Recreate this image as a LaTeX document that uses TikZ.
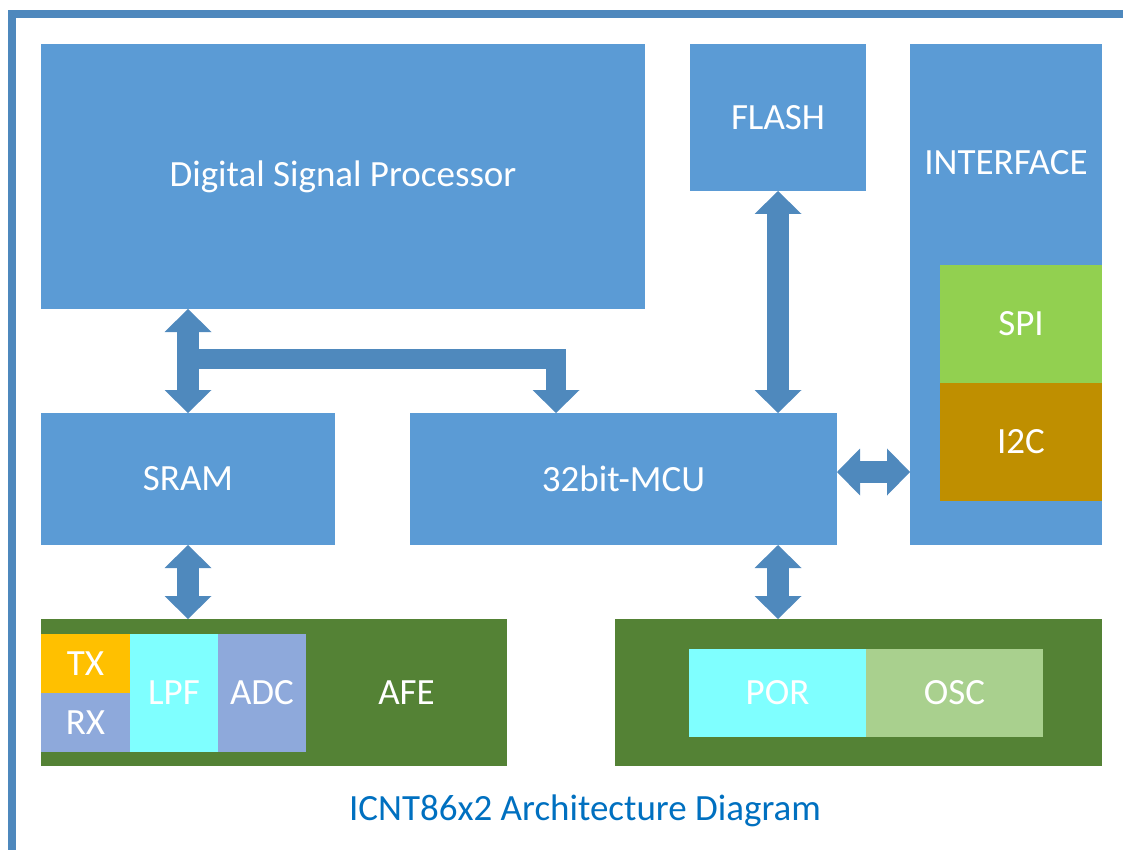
\documentclass[tikz,border=0pt]{standalone}
\usepackage{fontspec}
\setmainfont{Carlito}
\usetikzlibrary{positioning,arrows.meta}
\definecolor{frameC}{RGB}{78,136,189}
\definecolor{cBlock}{RGB}{91,155,213}
\definecolor{cBus}{RGB}{79,137,189}
\definecolor{cAna}{RGB}{84,130,53}
\definecolor{cTX}{RGB}{255,192,0}
\definecolor{cRX}{RGB}{142,169,219}
\definecolor{cLPF}{RGB}{127,255,255}
\definecolor{cOSC}{RGB}{169,208,142}
\definecolor{cSPI}{RGB}{146,208,80}
\definecolor{cI2C}{RGB}{191,143,0}
\definecolor{cTitle}{RGB}{0,112,192}

\begin{document}
\begin{tikzpicture}[
  x=1pt, y=1pt,
  font=\fontsize{37}{40}\selectfont,
  >={Triangle[length=23pt, width=47pt, line width=0pt]},
  every node/.style={inner sep=0pt, outer sep=0pt},
  blk/.style={fill=#1, text=white, anchor=north west},
  blk/.default=cBlock,
  bus/.style={line width=22pt, draw=cBus},
  lbl/.style={text=white},
  ttl/.style={text=cTitle},
]
\useasboundingbox (0,0) rectangle (1123,-850);

% ---- page frame ----
\draw[frameC, line width=8pt] (12,-14) rectangle (1400,-1000);

% ---- top row ----
\node[blk, minimum width=604pt, minimum height=265pt] (DSP) at (41,-44) {Digital Signal Processor};
\node[blk, minimum width=176pt, minimum height=147pt, right=45pt of DSP.north east, anchor=north west] (FLASH) {FLASH};
\node[blk, minimum width=192pt, minimum height=501pt, right=44pt of FLASH.north east, anchor=north west] (IFACE) {};
\node[lbl] (IFlbl) at ([yshift=-119pt]IFACE.north) {INTERFACE};
\node[blk=cSPI, minimum width=162pt, minimum height=118pt, below=221pt of IFACE.north east, anchor=north east] (SPI) {SPI};
\node[blk=cI2C, minimum width=162pt, minimum height=118pt, below=0pt of SPI] (I2C) {I2C};

% ---- middle row ----
\node[blk, minimum width=294pt, minimum height=132pt, below=104pt of DSP.south west, anchor=north west] (SRAM) {SRAM};
\node[blk, minimum width=427pt, minimum height=132pt, right=75pt of SRAM.north east, anchor=north west] (MCU) {32bit-MCU};

% ---- analog front end ----
\node[blk=cAna, minimum width=466pt, minimum height=147pt, below=74pt of SRAM.south west, anchor=north west] (AFE) {};
\node[blk=cTX, minimum width=89pt, minimum height=59pt, below=15pt of AFE.north west, anchor=north west] (TX) {TX};
\node[blk=cRX, minimum width=89pt, minimum height=59pt, below=0pt of TX] (RX) {RX};
\node[blk=cLPF, minimum width=88pt, minimum height=118pt, right=0pt of TX.north east, anchor=north west] (LPF) {LPF};
\node[blk=cRX, minimum width=88pt, minimum height=118pt, right=0pt of LPF] (ADC) {ADC};
\path (ADC.east) -- (ADC.east -| AFE.east) node[midway, lbl] (AFElbl) {AFE};

% ---- reset / clock ----
\node[blk=cAna, minimum width=487pt, minimum height=147pt, below=74pt of IFACE.south east, anchor=north east] (CLK) {};
\node[blk=cLPF, minimum width=177pt, minimum height=88pt] (POR) at ([xshift=74pt, yshift=-30pt]CLK.north west) {POR};
\node[blk=cOSC, minimum width=177pt, minimum height=88pt, right=0pt of POR] (OSC) {OSC};

% ---- buses ----
\coordinate (dspS) at (SRAM.north |- DSP.south);
\coordinate[below=50pt of dspS] (busL);
\coordinate[right=146pt of MCU.north west] (busR);
\coordinate[above=7pt of MCU.east] (mcuE);
\draw[bus, <->] (dspS) -- (SRAM.north);
\draw[bus, line width=20pt, ->] (busL) -| (busR);
\draw[bus, <->] (FLASH.south) -- (FLASH.south |- MCU.north);
\draw[bus, <->] (mcuE) -- (mcuE -| IFACE.west);
\draw[bus, <->] (SRAM.south) -- (SRAM.south |- AFE.north);
\draw[bus, <->] (FLASH.south |- MCU.south) -- (FLASH.south |- CLK.north);

% ---- caption ----
\node[ttl] (TTL) at (585,-811) {ICNT86x2 Architecture Diagram};

\end{tikzpicture}
\end{document}
